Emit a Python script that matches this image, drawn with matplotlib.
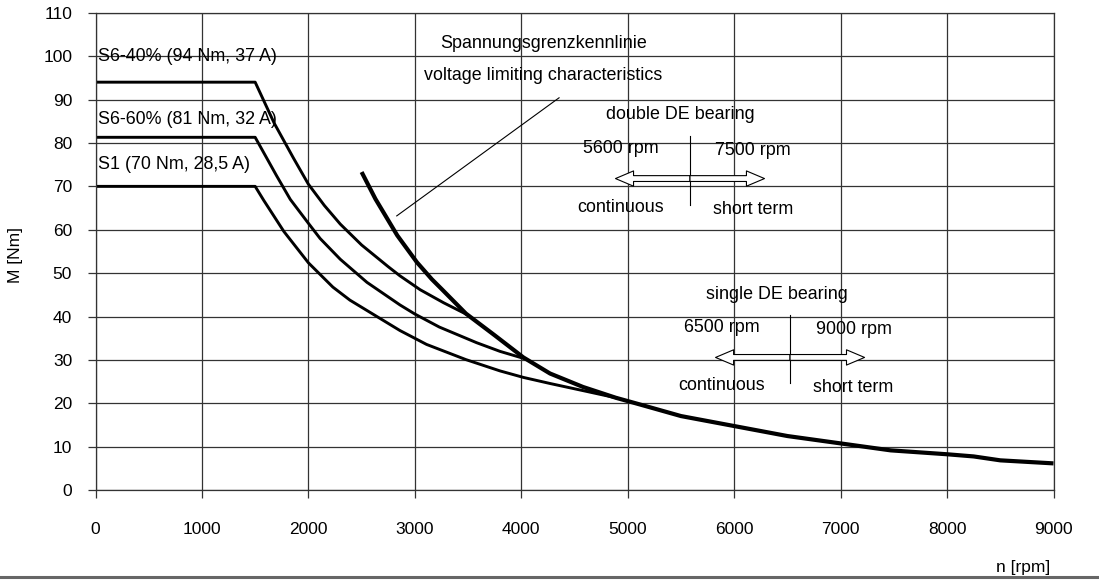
import matplotlib.pyplot as plt
from matplotlib.lines import Line2D

plt.rcParams['font.family'] = ['Liberation Sans', 'DejaVu Sans']

# thermal limit curves (speed in rpm, torque in Nm)
speed_s640 = [0, 1500, 1680, 1860, 2000, 2150, 2300, 2500, 2750, 2860, 3050, 3270, 3480]
torque_s640 = [94, 94, 84.5, 76.5, 70.5, 65.6, 61.3, 56.5, 51.5, 49.4, 46.2, 43.2, 40.6]

speed_s660 = [0, 1500, 1700, 1830, 2000, 2110, 2300, 2550, 2860, 3000, 3230, 3580, 3800, 4020]
torque_s660 = [81.3, 81.3, 72.5, 67, 61.5, 58, 53.2, 47.9, 42.7, 40.6, 37.6, 34.0, 32.0, 30.4]

speed_s1 = [0, 1500, 1580, 1770, 2000, 2230, 2390, 2860, 3110, 3480, 3800, 4020, 4270, 4610, 4890]
torque_s1 = [70, 70, 66.8, 59.6, 52.4, 46.8, 43.8, 36.8, 33.6, 30.1, 27.5, 26.0, 24.6, 22.8, 21.3]

# voltage limiting characteristic
speed_u = [2500, 2630, 2835, 3020, 3160, 3250, 3480, 3750, 4020, 4270, 4580, 4890, 5110,
           5500, 6000, 6500, 7000, 7470, 8000, 8250, 8500, 9000]
torque_u = [73.3, 67.1, 58.7, 52.5, 48.6, 46.4, 40.7, 35.7, 30.6, 26.9, 23.8, 21.3, 19.8,
            17.1, 14.8, 12.5, 10.8, 9.2, 8.3, 7.8, 6.9, 6.2]

curve_labels = ['S6-40% (94 Nm, 37 A)', 'S6-60% (81 Nm, 32 A)', 'S1 (70 Nm, 28,5 A)']

# bearing speed limits: (continuous, short term)
double_de = (5585, 6281)
single_de = (6525, 7221)
arrow_half = 700

fig = plt.figure(figsize=(10.99, 5.80), dpi=100)
ax = fig.add_axes([95.5 / 1099, (580 - 490.3) / 580, 958 / 1099, 477.6 / 580])

ax.set_xlim(0, 9000)
ax.set_ylim(0, 110)
ax.set_xticks(range(0, 9001, 1000))
ax.set_yticks(range(0, 111, 10))
ax.grid(True, color='#333333', lw=0.9)
ax.set_axisbelow(True)
for s in ax.spines.values():
    s.set_color('#333333')
    s.set_linewidth(0.9)
ax.tick_params(axis='both', direction='out', length=5.8, width=0.9, color='#333333',
               labelsize=12.5)
ax.tick_params(axis='x', pad=17)
ax.tick_params(axis='y', pad=11)

ax.plot(speed_s640, torque_s640, color='black', lw=2.1, solid_joinstyle='round')
ax.plot(speed_s660, torque_s660, color='black', lw=2.1, solid_joinstyle='round')
ax.plot(speed_s1, torque_s1, color='black', lw=2.1, solid_joinstyle='round')
ax.plot(speed_u, torque_u, color='black', lw=3.0, solid_joinstyle='round', solid_capstyle='butt')

fs = 12.9
ax.text(25, 99.8, curve_labels[0], fontsize=fs, va='center')
ax.text(25, 85.5, curve_labels[1], fontsize=fs, va='center')
ax.text(25, 75.0, curve_labels[2], fontsize=fs, va='center')

# pointer to the voltage limit curve
ax.plot([2830, 4355], [63.2, 90.4], color='black', lw=0.8)
ax.text(3237, 103.0, 'Spannungsgrenzkennlinie', fontsize=fs, va='center')
ax.text(3089, 95.5, 'voltage limiting characteristics', fontsize=fs, va='center')


def bearing_marker(cont, short, y, title, ytitle):
    arrow = dict(arrowstyle='simple,head_length=1.3,head_width=1.1,tail_width=0.42',
                 mutation_scale=10, fc='white', ec='black', lw=0.8, shrinkA=0, shrinkB=0)
    ax.annotate('', xy=(cont - arrow_half, y), xytext=(cont, y), arrowprops=arrow)
    ax.annotate('', xy=(cont + arrow_half, y), xytext=(cont, y), arrowprops=arrow)
    ax.plot([cont, cont], [y - 6.0, y + 9.8], color='black', lw=0.8)
    ax.text(cont - 785, ytitle, title, fontsize=fs, va='center')


bearing_marker(double_de[0], double_de[1], 71.8, 'double DE bearing', 86.6)
ax.text(4583, 78.8, '5600 rpm', fontsize=fs, va='center')
ax.text(5820, 78.2, '7500 rpm', fontsize=fs, va='center')
ax.text(4530, 65.1, 'continuous', fontsize=fs, va='center')
ax.text(5804, 64.7, 'short term', fontsize=fs, va='center')

bearing_marker(single_de[0], single_de[1], 30.6, 'single DE bearing', 45.1)
ax.text(5532, 37.6, '6500 rpm', fontsize=fs, va='center')
ax.text(6766, 37.0, '9000 rpm', fontsize=fs, va='center')
ax.text(5475, 24.2, 'continuous', fontsize=fs, va='center')
ax.text(6744, 23.6, 'short term', fontsize=fs, va='center')

ax.set_ylabel('M [Nm]', fontsize=12.5)
ax.yaxis.set_label_coords(-0.0757, 0.493)
ax.set_xlabel('n [rpm]', fontsize=12.5, loc='right', va='center')
ax.xaxis.set_label_coords(0.9963, -0.1606)

fig.add_artist(Line2D([0, 1], [0.006, 0.006], color='#666666', lw=2.2,
                      transform=fig.transFigure))

fig.savefig('out.png', dpi=100)
